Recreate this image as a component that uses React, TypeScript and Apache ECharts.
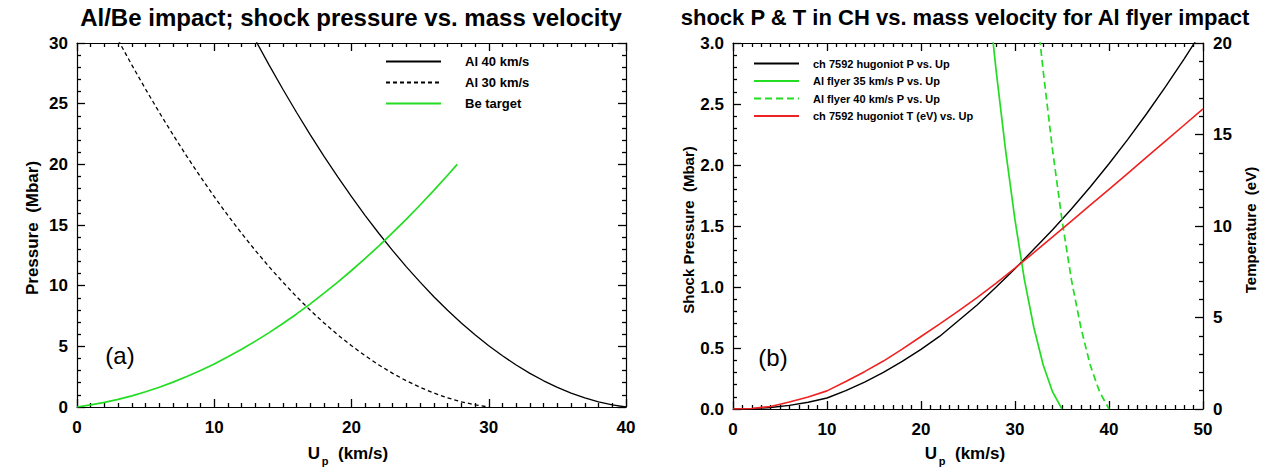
import React, { useEffect, useRef } from "react";
import * as echarts from "echarts";

// ---------- Panel (a): Al/Be impact ----------
const upAl40 = [13, 14, 15, 16, 17, 18, 19, 20, 21, 22, 23, 24, 25, 26, 27, 28, 29, 30, 31, 32, 33, 34, 35, 36, 37, 38, 39, 40];
const pAl40 = [30.24, 28.18, 26.19, 24.27, 22.43, 20.66, 18.96, 17.33, 15.78, 14.3, 12.89, 11.55, 10.29, 9.09, 7.97, 6.93, 5.95, 5.05, 4.22, 3.46, 2.77, 2.16, 1.62, 1.15, 0.75, 0.43, 0.18, 0];
const upAl30 = [3, 4, 5, 6, 7, 8, 9, 10, 11, 12, 13, 14, 15, 16, 17, 18, 19, 20, 21, 22, 23, 24, 25, 26, 27, 28, 29, 30];
const pAl30 = [30.24, 28.18, 26.19, 24.27, 22.43, 20.66, 18.96, 17.33, 15.78, 14.3, 12.89, 11.55, 10.29, 9.09, 7.97, 6.93, 5.95, 5.05, 4.22, 3.46, 2.77, 2.16, 1.62, 1.15, 0.75, 0.43, 0.18, 0];
const upBe = [0, 1, 2, 3, 4, 5, 6, 7, 8, 9, 10, 11, 12, 13, 14, 15, 16, 17, 18, 19, 20, 21, 22, 23, 24, 25, 26, 27, 27.7];
const pBe = [0, 0.17, 0.38, 0.63, 0.92, 1.26, 1.63, 2.05, 2.51, 3.01, 3.55, 4.14, 4.76, 5.43, 6.13, 6.88, 7.67, 8.5, 9.38, 10.29, 11.25, 12.25, 13.28, 14.37, 15.49, 16.65, 17.85, 19.1, 20.0];

// ---------- Panel (b): CH hugoniot ----------
const upCH = [0, 2, 4, 6, 8, 10, 12, 14, 16, 18, 20, 22, 24, 26, 28, 30, 32, 34, 36, 38, 40, 42, 44, 46, 48, 50];
const pCH = [0, 0.003, 0.012, 0.03, 0.055, 0.09, 0.151, 0.221, 0.301, 0.39, 0.489, 0.597, 0.725, 0.855, 1.0, 1.15, 1.31, 1.47, 1.64, 1.82, 2.01, 2.21, 2.42, 2.64, 2.87, 3.11];
const tCH = [0, 0.03, 0.14, 0.38, 0.66, 0.99, 1.5, 2.04, 2.62, 3.27, 3.96, 4.65, 5.36, 6.1, 6.88, 7.7, 8.54, 9.4, 10.27, 11.14, 12.0, 12.88, 13.76, 14.64, 15.52, 16.4];
const upFly35 = [27.5, 28, 29, 30, 31, 32, 33, 34, 35];
const pFly35 = [3.13, 2.77, 2.12, 1.55, 1.06, 0.67, 0.36, 0.14, 0];
const upFly40 = [32.5, 33, 34, 35, 36, 37, 38, 39, 40];
const pFly40 = [3.13, 2.77, 2.12, 1.55, 1.06, 0.67, 0.36, 0.14, 0];

// axis ranges and tick steps
const A_X = { min: 0, max: 40, major: 10, split: 10 };
const A_Y = { min: 0, max: 30, major: 5, split: 5 };
const B_X = { min: 0, max: 50, major: 10, split: 10 };
const B_Y = { min: 0, max: 3, major: 0.5, split: 5 };
const B_T = { min: 0, max: 20, major: 5, split: 5 };

const FONT = "'Liberation Sans', Arial, Helvetica, sans-serif";
const GREEN = "#22dd22";
const RED = "#ee2222";

const zip = (xs: number[], ys: number[]) => xs.map((x, i) => [x, ys[i]]);

type Ax = { min: number; max: number; major: number; split: number };
const labelStyle = { fontFamily: FONT, fontWeight: "bold", fontSize: 17, color: "#000" };

function axisDef(a: Ax, pos: string, labels: boolean, margin: number, fmt?: (v: number) => string) {
  return {
    type: "value",
    position: pos,
    min: a.min,
    max: a.max,
    interval: a.major,
    axisLine: { show: true, onZero: false, lineStyle: { color: "#000", width: 1.2 } },
    axisTick: { show: true, inside: true, length: 8, lineStyle: { color: "#000", width: 1.3 } },
    minorTick: { show: true, splitNumber: a.split, length: 4, lineStyle: { color: "#000", width: 1.3 } },
    splitLine: { show: false },
    axisLabel: { show: labels, margin, ...labelStyle, formatter: fmt },
  };
}

function lineSeries(name: string, yi: number, data: number[][], color: string, width: number, dash?: number[]) {
  return {
    type: "line",
    name,
    xAxisIndex: 0,
    yAxisIndex: yi,
    data,
    symbol: "none",
    smooth: false,
    clip: true,
    color,
    lineStyle: { color, width, type: dash ? dash : "solid" },
  };
}

function txt(text: string, x: number, y: number, size: number, weight: string, align = "center", rotation = 0) {
  return {
    type: "text",
    x,
    y,
    rotation,
    silent: true,
    style: {
      text,
      fill: "#000",
      font: `${weight} ${size}px ${FONT}`,
      textAlign: align,
      textVerticalAlign: "middle",
    },
  };
}

function legendDef(names: string[], left: number, top: number, w: number, h: number, gap: number, size: number, pad: number) {
  return {
    data: names,
    orient: "vertical",
    left,
    top,
    itemWidth: w,
    itemHeight: h,
    itemGap: gap,
    selectedMode: false,
    itemStyle: { opacity: 0, borderWidth: 0 },
    textStyle: { fontFamily: FONT, fontWeight: "bold", fontSize: size, color: "#000", padding: [0, 0, 0, pad] },
  };
}

// panel (a) occupies page x 0..655
const optionA = {
  animation: false,
  backgroundColor: "#fff",
  grid: { left: 77, top: 43, width: 549, height: 364 },
  xAxis: [axisDef(A_X, "bottom", true, 12), axisDef(A_X, "top", false, 8)],
  yAxis: [axisDef(A_Y, "left", true, 9), axisDef(A_Y, "right", false, 8)],
  legend: legendDef(["Al 40 km/s", "Al 30 km/s", "Be target"], 380, 50, 55, 14, 8, 13, 19),
  series: [
    lineSeries("Al 40 km/s", 0, zip(upAl40, pAl40), "#000", 1.3),
    lineSeries("Al 30 km/s", 0, zip(upAl30, pAl30), "#000", 1.3, [4, 3]),
    lineSeries("Be target", 0, zip(upBe, pBe), GREEN, 1.7),
  ],
  graphic: [
    txt("Al/Be impact; shock pressure vs. mass velocity", 351, 17, 24, "bold"),
    txt("(a)", 120, 355, 24, "normal"),
    txt("Pressure  (Mbar)", 32, 228, 17, "bold", "center", Math.PI / 2),
    txt("U", 314, 453, 17, "bold"),
    txt("p", 325, 461, 11, "bold"),
    txt("(km/s)", 338, 453, 17, "bold", "left"),
  ],
};

// panel (b) occupies page x 655..1261 (coordinates below are relative to 655)
const optionB = {
  animation: false,
  backgroundColor: "#fff",
  grid: { left: 78, top: 43, width: 470, height: 366 },
  xAxis: [axisDef(B_X, "bottom", true, 12), axisDef(B_X, "top", false, 8)],
  yAxis: [axisDef(B_Y, "left", true, 9, (v: number) => v.toFixed(1)), axisDef(B_T, "right", true, 10)],
  legend: legendDef(
    ["ch 7592 hugoniot P vs. Up", "Al flyer 35 km/s P vs. Up", "Al flyer 40 km/s P vs. Up", "ch 7592 hugoniot T (eV) vs. Up"],
    93, 53, 45, 12, 6.5, 11, 9
  ),
  series: [
    lineSeries("ch 7592 hugoniot P vs. Up", 0, zip(upCH, pCH), "#000", 1.4),
    lineSeries("Al flyer 35 km/s P vs. Up", 0, zip(upFly35, pFly35), GREEN, 1.7),
    lineSeries("Al flyer 40 km/s P vs. Up", 0, zip(upFly40, pFly40), GREEN, 1.7, [7, 4]),
    lineSeries("ch 7592 hugoniot T (eV) vs. Up", 1, zip(upCH, tCH), RED, 1.6),
  ],
  graphic: [
    txt("shock P & T in CH vs. mass velocity for Al flyer impact", 310, 17, 22, "bold"),
    txt("(b)", 118, 357, 24, "normal"),
    txt("Shock Pressure  (Mbar)", 33, 230, 15, "bold", "center", Math.PI / 2),
    txt("Temperature  (eV)", 595, 230, 15, "bold", "center", Math.PI / 2),
    txt("U", 276, 453, 17, "bold"),
    txt("p", 287, 461, 11, "bold"),
    txt("(km/s)", 300, 453, 17, "bold", "left"),
  ],
};

function Panel({ option, left, width }: { option: any; left: number; width: number }) {
  const ref = useRef<HTMLDivElement>(null);
  useEffect(() => {
    if (!ref.current) return;
    const chart = echarts.init(ref.current, undefined, { renderer: "svg" });
    chart.setOption(option);
    return () => chart.dispose();
  }, [option]);
  return <div ref={ref} style={{ position: "fixed", left, top: 0, width, height: 470 }} />;
}

export default function App() {
  return (
    <div style={{ position: "fixed", left: 0, top: 0, width: 1261, height: 470, background: "#fff" }}>
      <Panel option={optionA} left={0} width={655} />
      <Panel option={optionB} left={655} width={606} />
    </div>
  );
}
